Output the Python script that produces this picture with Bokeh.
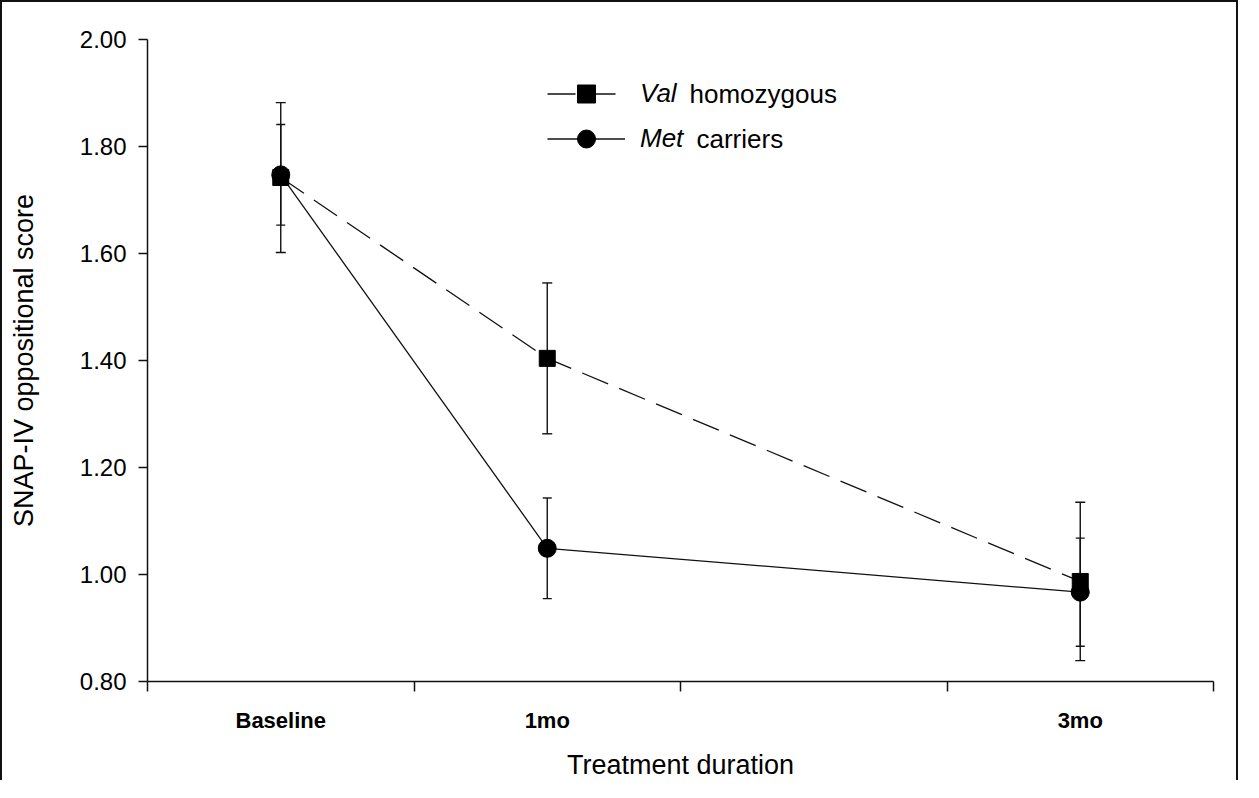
from bokeh.plotting import figure
from bokeh.models import (Range1d, FixedTicker, Whisker, TeeHead, ColumnDataSource,
                          Legend, LegendItem, Label, PrintfTickFormatter)
from bokeh.embed import file_html
from bokeh.resources import INLINE

# ---- data ----
months = [0, 1, 3]
month_labels = ["Baseline", "1mo", "3mo"]
val_mean = [1.742, 1.404, 0.987]
val_err = [0.140, 0.141, 0.148]
met_mean = [1.747, 1.049, 0.967]
met_err = [0.094, 0.094, 0.101]
y_ticks = [0.8, 1.0, 1.2, 1.4, 1.6, 1.8, 2.0]
x_bounds = [-0.5, 0.5, 1.5, 2.5, 3.5]

FONT = "Liberation Sans"
INK = "#111111"

val_src = ColumnDataSource(dict(x=months, y=val_mean,
                                upper=[m + e for m, e in zip(val_mean, val_err)],
                                lower=[m - e for m, e in zip(val_mean, val_err)]))
met_src = ColumnDataSource(dict(x=months, y=met_mean,
                                upper=[m + e for m, e in zip(met_mean, met_err)],
                                lower=[m - e for m, e in zip(met_mean, met_err)]))

p = figure(width=1238, height=780, output_backend="svg", toolbar_location=None,
           x_range=Range1d(-0.5, 3.5), y_range=Range1d(0.8, 2.0),
           min_border_left=145, min_border_right=27, min_border_top=37,
           min_border_bottom=100)
p.styles = {"border-top": "2px solid #111", "border-left": "2px solid #111",
            "border-right": "2px solid #111"}
p.outline_line_color = None
p.grid.visible = False
p.background_fill_color = "white"
p.border_fill_color = "white"

# y axis
ya = p.yaxis[0]
ya.ticker = FixedTicker(ticks=y_ticks, minor_ticks=[])
ya.formatter = PrintfTickFormatter(format="%.2f")
ya.major_tick_in = 0
ya.major_tick_out = 9
ya.minor_tick_line_color = None
ya.axis_line_color = INK
ya.axis_line_width = 1.5
ya.major_tick_line_color = INK
ya.major_tick_line_width = 1.5
ya.major_label_text_font = FONT
ya.major_label_text_font_size = "24px"
ya.major_label_text_color = "black"
ya.major_label_standoff = 12
ya.axis_label = "SNAP-IV oppositional score"
ya.axis_label_text_font = FONT
ya.axis_label_text_font_size = "27px"
ya.axis_label_text_font_style = "normal"
ya.axis_label_text_color = "black"
ya.axis_label_standoff = 38

# x axis: labels at the time points, tick marks between them
xa = p.xaxis[0]
xa.ticker = FixedTicker(ticks=months, minor_ticks=x_bounds)
xa.major_label_overrides = {m: lab for m, lab in zip(months, month_labels)}
xa.major_tick_line_color = None
xa.major_tick_in = 0
xa.major_tick_out = 0
xa.minor_tick_in = 0
xa.minor_tick_out = 10
xa.minor_tick_line_color = INK
xa.minor_tick_line_width = 1.5
xa.axis_line_color = INK
xa.axis_line_width = 1.5
xa.major_label_text_font = FONT
xa.major_label_text_font_size = "22px"
xa.major_label_text_font_style = "bold"
xa.major_label_text_color = "black"
xa.major_label_standoff = 16
xa.axis_label = "Treatment duration"
xa.axis_label_text_font = FONT
xa.axis_label_text_font_size = "27px"
xa.axis_label_text_font_style = "normal"
xa.axis_label_text_color = "black"
xa.axis_label_standoff = 14

# error bars
for src, hw in ((val_src, 10), (met_src, 9)):
    w = Whisker(base="x", upper="upper", lower="lower", source=src,
                line_color=INK, line_width=1.4,
                upper_head=TeeHead(size=hw, line_color=INK, line_width=1.4),
                lower_head=TeeHead(size=hw, line_color=INK, line_width=1.4))
    p.add_layout(w)

val_line = p.line("x", "y", source=val_src, line_color=INK, line_width=1.3,
                  line_dash="28 12")
met_line = p.line("x", "y", source=met_src, line_color=INK, line_width=1.3)
val_mk = p.scatter("x", "y", source=val_src, marker="square", size=16,
                   fill_color="black", line_color="black")
met_mk = p.scatter("x", "y", source=met_src, marker="circle", size=18,
                   fill_color="black", line_color="black")

legend = Legend(items=[LegendItem(label="Val", renderers=[val_line, val_mk]),
                       LegendItem(label="Met", renderers=[met_line, met_mk])],
                location=(400, 520), orientation="vertical",
                glyph_width=78, glyph_height=45, spacing=0, padding=0, margin=0,
                border_line_color=None, background_fill_alpha=0,
                label_text_font=FONT, label_text_font_size="26px",
                label_text_font_style="italic", label_text_color="black",
                label_standoff=15)
p.add_layout(legend)

for txt, xs, ys in (("homozygous", 542, 588), ("carriers", 549, 543)):
    p.add_layout(Label(x=xs, y=ys, x_units="screen", y_units="screen", text=txt,
                       text_font=FONT, text_font_size="26px",
                       text_baseline="middle", text_align="left", text_color="black"))

open("out.html", "w").write(file_html(p, INLINE))
